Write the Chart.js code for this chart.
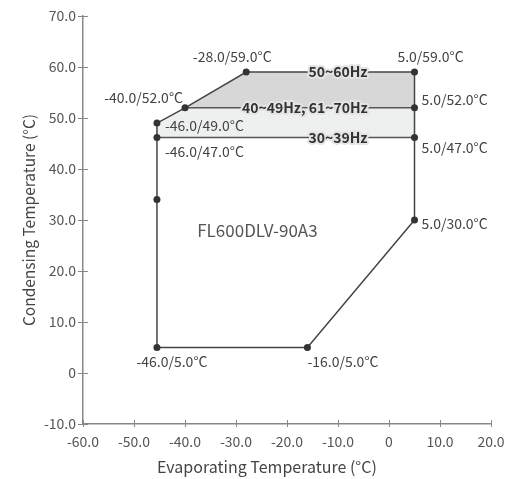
<!DOCTYPE html>
<html>
<head>
<meta charset="utf-8">
<script src="https://cdn.jsdelivr.net/npm/chart.js@4"></script>
<style>
  html, body { margin: 0; padding: 0; background: #fff; }
  #wrap { width: 506px; height: 479px; }
</style>
</head>
<body>
<div id="wrap"><canvas id="envelope" width="506" height="479"></canvas></div>
<script>
// axis ticks
const xTicks = [-60, -50, -40, -30, -20, -10, 0, 10, 20];
const yTicks = [-10, 0, 10, 20, 30, 40, 50, 60, 70];
const xTitle = "Evaporating Temperature (°C)";
const yTitle = "Condensing Temperature (°C)";

// operating envelope outline (evaporating / condensing temp)
const envX = [-45.5, -16, 5, 5, -28, -40, -45.5, -45.5];
const envY = [5, 5, 30, 59, 59, 52, 49, 5];

// frequency bands
const upperBandX = [-40, -28, 5, 5, -40];
const upperBandY = [52, 59, 59, 52, 52];
const lowerBandX = [-45.5, -45.5, -40, 5, 5, -45.5];
const lowerBandY = [46.2, 49, 52, 52, 46.2, 46.2];
const line52X = [-40, 5];
const line52Y = [52, 52];
const line47X = [-45.5, 5];
const line47Y = [46.2, 46.2];

// marked points + their labels
const markX = [-28, -40, -45.5, -45.5, 5, 5, 5, 5, -45.5, -16, -45.5];
const markY = [59, 52, 49, 46.2, 59, 52, 46.2, 30, 5, 5, 34];
const markText = ["-28.0/59.0°C", "-40.0/52.0°C", "-46.0/49.0°C", "-46.0/47.0°C",
  "5.0/59.0°C", "5.0/52.0°C", "5.0/47.0°C", "5.0/30.0°C",
  "-46.0/5.0°C", "-16.0/5.0°C", ""];

const bandNames = ["50~60Hz", "40~49Hz, 61~70Hz", "30~39Hz"];
const bandNameX = [-10, -16.5, -10];
const bandNameY = [59, 52, 46.2];

const modelName = "FL600DLV-90A3";
const modelX = -25.8;
const modelY = 28;

const FONT = "'Noto Sans CJK SC', 'Noto Sans', sans-serif";
const pts = (xs, ys) => xs.map((x, i) => ({ x: x, y: ys[i] }));

// pixel offsets for the point labels [dx, dy, align]
const labelPos = [
  [-14, -15, "center"], [-2, -10, "right"], [8, 3, "left"], [8, 14, "left"],
  [16, -15, "center"], [7, -8, "left"], [7, 10, "left"], [7, 4, "left"],
  [15, 14, "center"], [0, 14, "left"], [0, 0, "left"],
];

const labelsPlugin = {
  id: "envelopeLabels",
  afterDatasetsDraw(chart) {
    const { ctx, scales } = chart;
    const sx = scales.x, sy = scales.y;
    ctx.save();
    ctx.textBaseline = "middle";

    // point labels
    ctx.font = "14px " + FONT;
    ctx.fillStyle = "#444";
    markText.forEach((t, i) => {
      if (!t) return;
      const p = labelPos[i];
      ctx.textAlign = p[2];
      ctx.fillText(t, sx.getPixelForValue(markX[i]) + p[0], sy.getPixelForValue(markY[i]) + p[1]);
    });

    // band names with a halo so the line breaks around them
    ctx.font = "bold 14px " + FONT;
    ctx.textAlign = "center";
    bandNames.forEach((t, i) => {
      const px = sx.getPixelForValue(bandNameX[i]);
      const py = sy.getPixelForValue(bandNameY[i]);
      ctx.lineWidth = 4;
      ctx.strokeStyle = "#e4e4e4";
      ctx.lineJoin = "round";
      ctx.strokeText(t, px, py);
      ctx.fillStyle = "#333";
      ctx.fillText(t, px, py);
    });

    // model name
    ctx.font = "17px " + FONT;
    ctx.fillStyle = "#555";
    ctx.fillText(modelName, sx.getPixelForValue(modelX), sy.getPixelForValue(modelY));

    // x title sits a bit left of the plot centre in the original
    ctx.font = "16px " + FONT;
    ctx.fillStyle = "#444";
    ctx.fillText(xTitle, 267, 467);

    // tick marks that cross the axis lines
    ctx.strokeStyle = "#888";
    ctx.lineWidth = 1;
    const ca = chart.chartArea;
    xTicks.forEach((v) => {
      const px = Math.round(sx.getPixelForValue(v)) + 0.5;
      ctx.beginPath();
      ctx.moveTo(px, ca.bottom - 4);
      ctx.lineTo(px, ca.bottom + 3);
      ctx.stroke();
    });
    yTicks.forEach((v) => {
      const py = Math.round(sy.getPixelForValue(v)) + 0.5;
      ctx.beginPath();
      ctx.moveTo(ca.left - 5, py);
      ctx.lineTo(ca.left + 5, py);
      ctx.stroke();
    });
    ctx.restore();
  },
};

const fmt = (v) => (v === 0 ? "0" : v.toFixed(1));

new Chart(document.getElementById("envelope"), {
  type: "scatter",
  data: {
    datasets: [
      {
        data: pts(markX, markY),
        pointRadius: 3.5,
        pointBackgroundColor: "#333",
        pointBorderWidth: 0,
        showLine: false,
      },
      {
        data: pts(envX, envY),
        showLine: true,
        borderColor: "#444",
        borderWidth: 1.5,
        pointRadius: 0,
      },
      {
        data: pts(line52X, line52Y),
        showLine: true,
        borderColor: "#555",
        borderWidth: 1.5,
        pointRadius: 0,
      },
      {
        data: pts(line47X, line47Y),
        showLine: true,
        borderColor: "#555",
        borderWidth: 1.5,
        pointRadius: 0,
      },
      {
        data: pts(upperBandX, upperBandY),
        showLine: true,
        borderWidth: 0,
        pointRadius: 0,
        fill: "shape",
        backgroundColor: "#d7d7d7",
      },
      {
        data: pts(lowerBandX, lowerBandY),
        showLine: true,
        borderWidth: 0,
        pointRadius: 0,
        fill: "shape",
        backgroundColor: "#eeefef",
      },
    ],
  },
  options: {
    responsive: false,
    animation: false,
    layout: { padding: { top: 16, right: 15, left: 0, bottom: 0 } },
    plugins: { legend: { display: false }, tooltip: { enabled: false } },
    scales: {
      x: {
        type: "linear",
        min: -60,
        max: 20,
        afterBuildTicks: (s) => { s.ticks = xTicks.map((v) => ({ value: v })); },
        afterFit: (s) => { s.height = 55; s.paddingRight = 0; s.paddingLeft = 0; },
        grid: { display: false, drawTicks: false },
        border: { color: "#888", width: 1.5 },
        ticks: { callback: fmt, padding: 9, color: "#555", font: { family: FONT, size: 14 }, maxRotation: 0 },
        title: { display: false },
      },
      y: {
        type: "linear",
        min: -10,
        max: 70,
        afterBuildTicks: (s) => { s.ticks = yTicks.map((v) => ({ value: v })); },
        afterFit: (s) => { s.width = 83; s.paddingTop = 0; s.paddingBottom = 0; },
        grid: { display: false, drawTicks: false },
        border: { color: "#888", width: 1.5 },
        ticks: { callback: fmt, padding: 7, color: "#555", font: { family: FONT, size: 14 } },
        title: {
          display: true,
          text: yTitle,
          color: "#444",
          font: { family: FONT, size: 15.5 },
          padding: { top: 20, bottom: 0 },
        },
      },
    },
  },
  plugins: [labelsPlugin],
});
</script>
</body>
</html>
